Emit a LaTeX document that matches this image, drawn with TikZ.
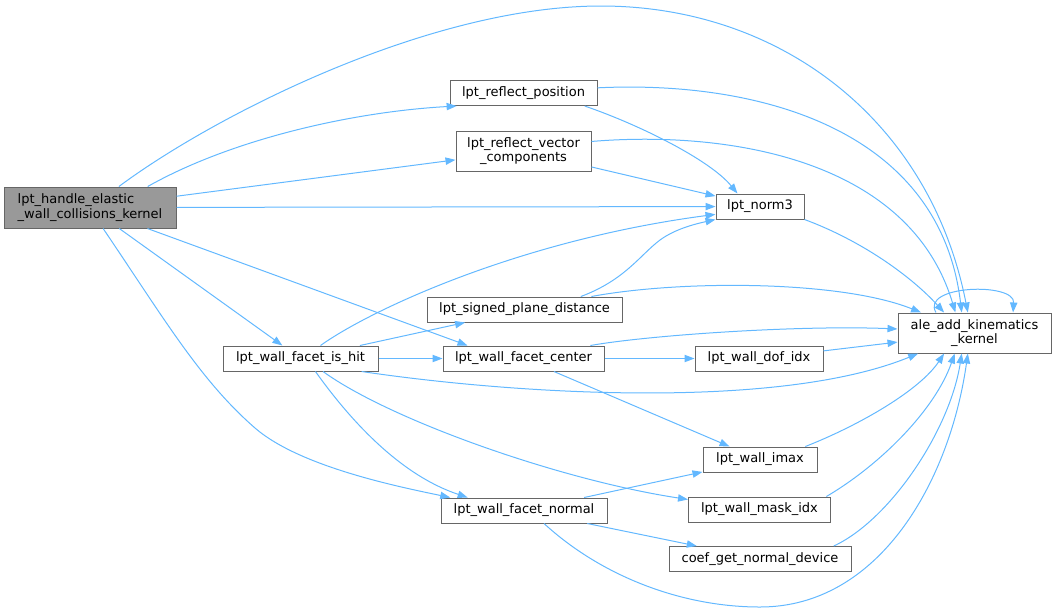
\documentclass[tikz,border=0pt]{standalone}
\usepackage{fontspec}
\setmainfont{DejaVu Sans}
\usetikzlibrary{arrows.meta}
\definecolor{callblue}{HTML}{63B8FF}
\definecolor{boxline}{HTML}{666666}
\definecolor{rootgray}{HTML}{999999}

\begin{document}
\begin{tikzpicture}[x=0.75pt, y=-0.75pt,
	fn/.style={draw=boxline, line width=0.75pt, fill=white, inner sep=0pt, minimum height=18.75pt, font=\fontsize{9.75}{11}\selectfont},
	fn2/.style={fn, minimum height=30pt, align=center},
	call/.style={draw=callblue, line width=0.75pt, -{Triangle[length=7.5pt, width=5.5pt]}}]

\useasboundingbox (0,0) rectangle (1056,612);

\node[fn2, fill=rootgray, align=left, minimum width=129pt, minimum height=30.75pt] (main) at (90,207.5) {lpt\_handle\_elastic\\\_wall\_collisions\_kernel};
\node[fn, minimum width=110.25pt] (rpos) at (523.5,93) {lpt\_reflect\_position};
\node[fn2, minimum width=101.25pt] (rvec) at (523.5,151) {lpt\_reflect\_vector\\\_components};
\node[fn, minimum width=66pt] (norm) at (760,206.5) {lpt\_norm3};
\node[fn, minimum width=146.25pt] (plane) at (524.5,309.5) {lpt\_signed\_plane\_distance};
\node[fn, minimum width=116.25pt] (hit) at (300.5,358.5) {lpt\_wall\_facet\_is\_hit};
\node[fn, minimum width=120.75pt] (center) at (523.5,358.5) {lpt\_wall\_facet\_center};
\node[fn, minimum width=96pt] (dof) at (759,358.5) {lpt\_wall\_dof\_idx};
\node[fn2, minimum width=114.75pt] (ale) at (974.5,333) {ale\_add\_kinematics\\\_kernel};
\node[fn, minimum width=85.5pt] (imax) at (760,459.5) {lpt\_wall\_imax};
\node[fn, minimum width=106.5pt] (mask) at (759.5,509.5) {lpt\_wall\_mask\_idx};
\node[fn, minimum width=136.5pt] (coef) at (760,559) {coef\_get\_normal\_device};
\node[fn, minimum width=124.5pt] (normal) at (524,510.5) {lpt\_wall\_facet\_normal};

\foreach \a/\b in {main/rvec, main/norm, main/hit, rvec/norm, hit/plane, hit/center, center/dof, center/imax, dof/ale, normal/imax, normal/coef}
	\draw[call] (\a) -- (\b);
\draw[call] (main) -- ([xshift=-42pt]center.north);

\draw[call] (main.36) .. controls (215,115) and (430,6) .. (601,6) .. controls (780,6) and (930,120) .. (ale.108);
\draw[call] (main.20) .. controls (230,140) and (350,112) .. (rpos.191);
\draw[call] (main.302) .. controls (165,320) and (200,380) .. (255,428) .. controls (300,467) and (400,487) .. (normal.170);
\draw[call] (rpos.348) .. controls (640,125) and (710,160) .. (norm.150);
\draw[call] (rpos.4) .. controls (760,80) and (940,130) .. (ale.122);
\draw[call] (rvec.8) .. controls (730,130) and (910,160) .. (ale.133);
\draw[call] (norm.south east) .. controls (860,240) and (910,275) .. (ale.146);
\draw[call] (plane.13) .. controls (625,280) and (640,255) .. (660,240) .. controls (675,229) and (695,224) .. (norm.south west);
\draw[call] (plane.11) .. controls (680,280) and (840,280) .. (ale.159);
\draw[call] (hit.33) .. controls (370,310) and (520,240) .. (norm.190);
\draw[call] (hit.348) .. controls (520,395) and (780,410) .. (ale.200);
\draw[call] (hit.319) .. controls (350,420) and (400,475) .. (normal.167);
\draw[call] (hit.330) .. controls (390,420) and (560,480) .. (mask.172);
\draw[call] (center.11) .. controls (650,335) and (800,325) .. (ale.177);
\draw[call] (imax.16) .. controls (860,425) and (920,390) .. (ale.214);
\draw[call] (mask.11) .. controls (880,465) and (935,410) .. (ale.226);
\draw[call] (coef.10) .. controls (890,520) and (950,430) .. (ale.238);
\draw[call] (normal.327) .. controls (600,575) and (680,607) .. (760,607) .. controls (880,607) and (950,480) .. (ale.252);
\draw[call] (ale.152) .. controls (920,285) and (1015,282) .. (ale.28);

\end{tikzpicture}
\end{document}
